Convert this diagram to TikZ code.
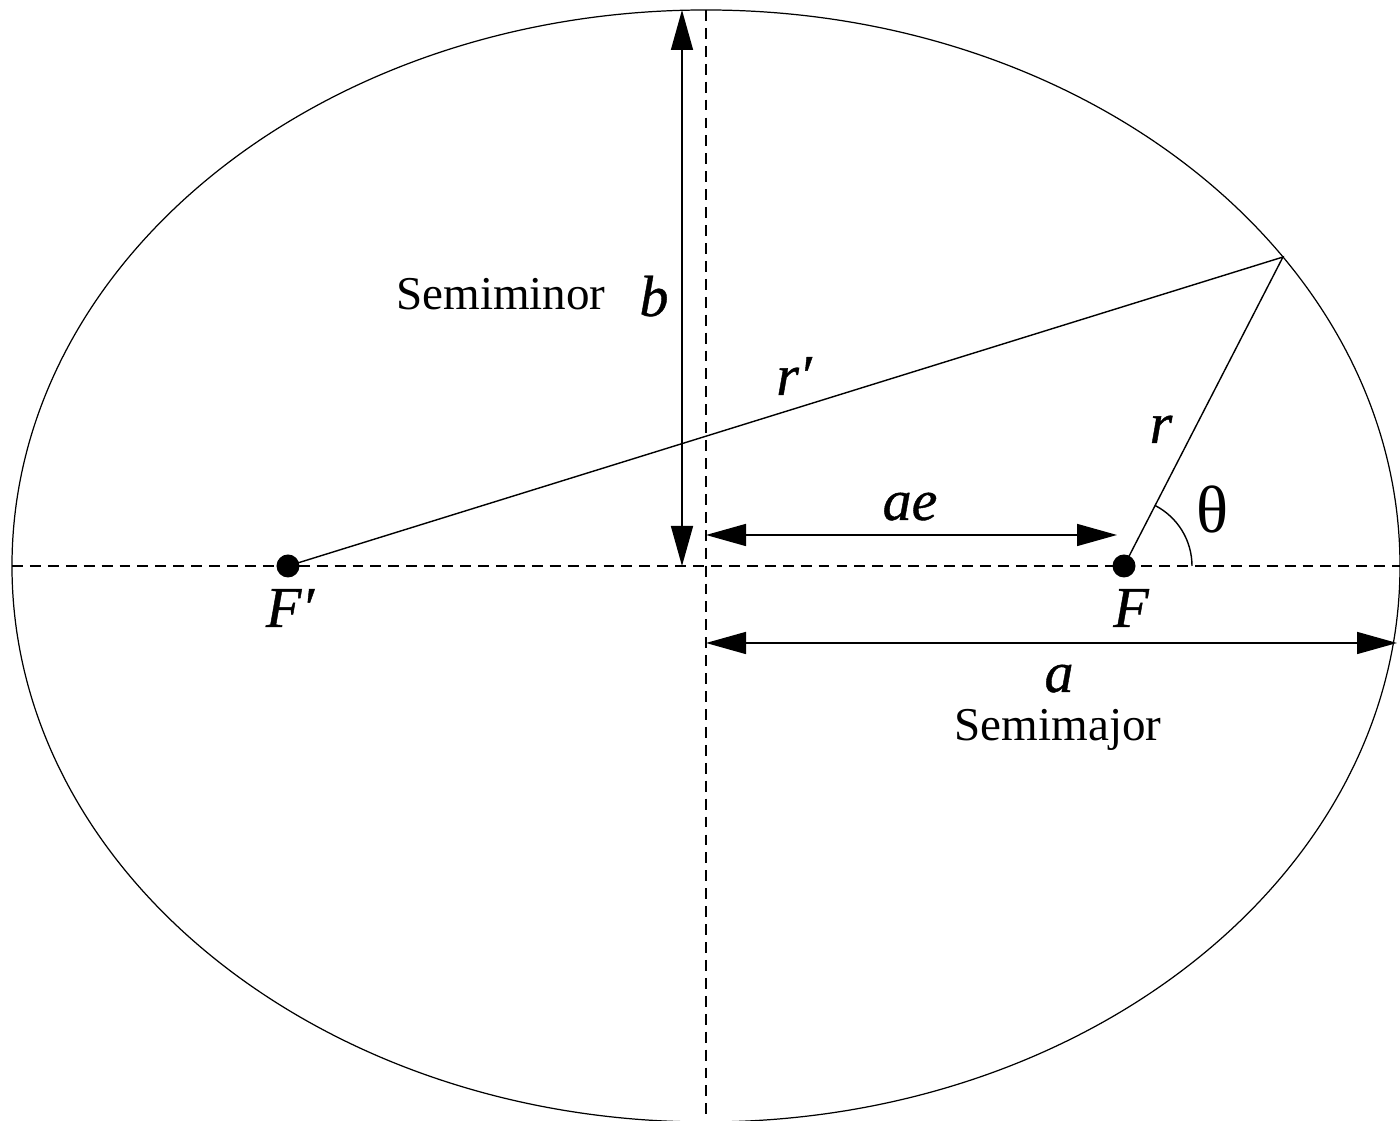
\documentclass[tikz,border=0pt]{standalone}
\usepackage{fontspec}
\setmainfont{Liberation Serif}
\newfontface\lblit{Liberation Serif Italic}[FakeBold=0.7]
\usetikzlibrary{arrows.meta, positioning, calc}
\tikzset{
  dimline/.style={line width=0.45pt, {Triangle[length=0.4cm, width=0.22cm]}-{Triangle[length=0.4cm, width=0.22cm]}},
  axisline/.style={line width=0.4pt, dash pattern=on 3.1pt off 2pt},
  mathlbl/.style={anchor=base, inner sep=0pt, font=\fontsize{16.5}{18}\lblit},
  wordlbl/.style={anchor=base, inner sep=0pt, font=\fontsize{13.4}{16}\selectfont},
  focus/.style={circle, fill=black, inner sep=0pt, minimum size=0.23cm}
}

\begin{document}
\begin{tikzpicture}
  \useasboundingbox (-7.06,-5.55) rectangle (6.94,5.66);
  % ellipse and axes
  \draw[line width=0.35pt] (0,0) ellipse (6.94 and 5.56);
  \coordinate (C) at (0,0);
  \coordinate (L) at (-6.94,0);
  \coordinate (R) at (6.94,0);
  \coordinate (T) at (0,5.56);
  \coordinate (B) at (0,-5.55);
  \coordinate (P) at (33.76:6.94 and 5.56);
  \draw[axisline] (L) -- (R);
  \draw[axisline] (T) -- (B);
  % foci
  \node[focus] (Fp) at (-4.18,0) {};
  \node[focus] (F) at (4.18,0) {};
  \draw[line width=0.4pt] (Fp.center) -- (P) -- (F.center);
  % angle theta
  \draw[line width=0.4pt] ($(F.center)+(0.68,0)$) arc[start angle=0, end angle=63, radius=0.68];
  % dimensions
  \coordinate (btop) at (-0.24,5.56);
  \coordinate (bbot) at (-0.24,0);
  \coordinate (aeL) at (0,0.31);
  \coordinate (aeR) at (4.11,0.31);
  \coordinate (aL) at (0,-0.77);
  \coordinate (aR) at (6.91,-0.77);
  \draw[dimline] (btop) -- (bbot);
  \draw[dimline] (aeL) -- (aeR);
  \draw[dimline] (aL) -- (aR);
  % labels
  \node[wordlbl] (semiminor) at (-2.05,2.56) {Semiminor};
  \node[mathlbl] (blbl) at (-0.52,2.50) {b};
  \node[mathlbl] (rplbl) at (0.88,1.71) {r′};
  \node[mathlbl] (rlbl) at (4.55,1.23) {r};
  \node[mathlbl] (aelbl) at (2.04,0.46) {ae};
  \node[anchor=base, inner sep=0pt, font=\fontsize{19}{21}\selectfont] (thlbl) at (5.06,0.33) {θ};
  \node[mathlbl] (Fplbl) at (-4.16,-0.61) {F′};
  \node[mathlbl] (Flbl) at (4.25,-0.61) {F};
  \node[mathlbl] (albl) at (3.53,-1.26) {a};
  \node[wordlbl] (semimajor) at (3.52,-1.75) {Semimajor};
\end{tikzpicture}
\end{document}
